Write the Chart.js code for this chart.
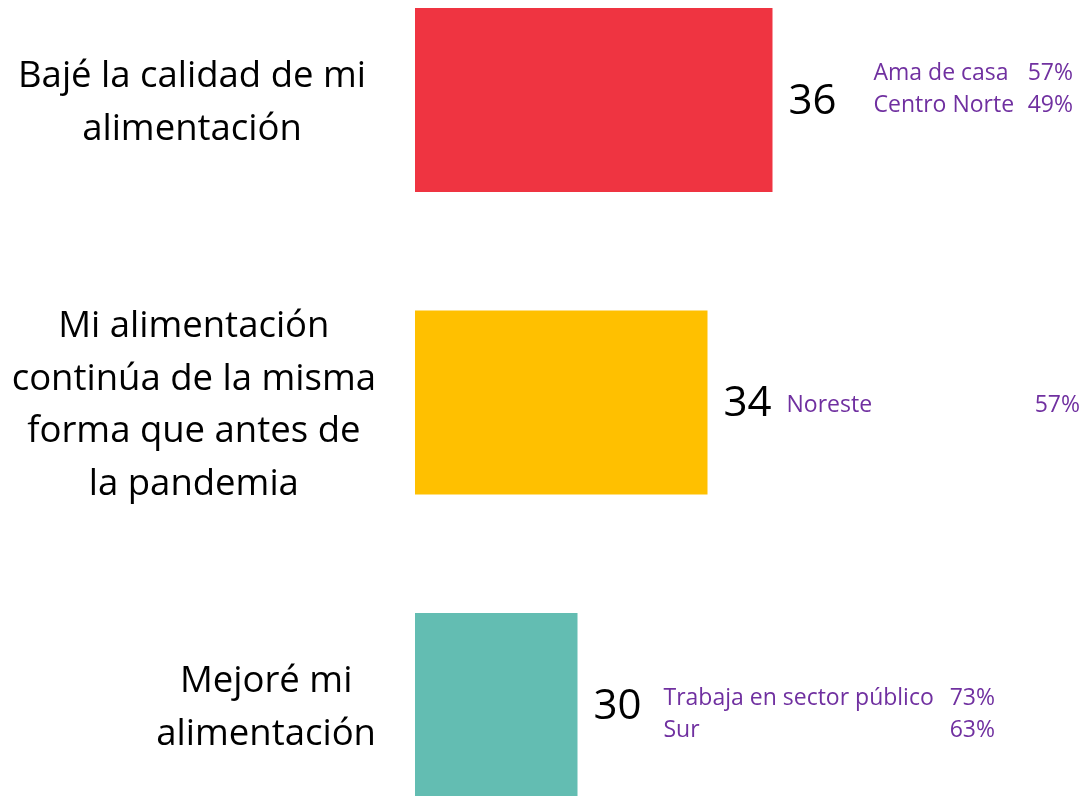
<!DOCTYPE html>
<html><head><meta charset="utf-8">
<script src="https://cdn.jsdelivr.net/npm/chart.js@4.4.0/dist/chart.umd.min.js"></script>
<style>html,body{margin:0;padding:0;background:#fff;overflow:hidden}#wrap{position:relative;width:1082px;height:796px}canvas{display:block}</style>
</head><body><div id="wrap"><canvas id="c" width="1082" height="796"></canvas></div>
<script>
// ---- data ----
const categories = [
  ["Bajé la calidad de mi", "alimentación"],
  ["Mi alimentación", "continúa de la misma", "forma que antes de", "la pandemia"],
  ["Mejoré mi", "alimentación"]
];
const values = [36, 34, 30];
const noteLabels = [["Ama de casa", "Centro Norte"], ["Noreste"], ["Trabaja en sector público", "Sur"]];
const notePercents = [["57%", "49%"], ["57%"], ["73%", "63%"]];
const axisMin = 25, axisMax = 45;

// ---- styles / layout ----
const barColors = ['#EF3441', '#FFC000', '#63BDB2'];
const FONT = '"Open Sans", Lato, sans-serif';
const labelRight = [366, 376, 376];
const noteLayout = [
  { dx: 101, right: 1073, dy: [-28, 4] },
  { dx: 79, right: 1080, dy: [2] },
  { dx: 86, right: 995, dy: [-8, 24] }
];

const textPlugin = {
  id: 'texts',
  afterDatasetsDraw(chart) {
    const ctx = chart.ctx;
    const meta = chart.getDatasetMeta(0);
    const yScale = chart.scales.y;
    ctx.save();
    // category labels
    ctx.font = '36.5px ' + FONT;
    ctx.fillStyle = '#000';
    ctx.textAlign = 'center';
    ctx.textBaseline = 'middle';
    categories.forEach((lines, i) => {
      const yc = yScale.getPixelForTick(i);
      const widest = Math.max(...lines.map(l => ctx.measureText(l).width));
      const cx = labelRight[i] - widest / 2;
      lines.forEach((l, j) => {
        ctx.fillText(l, cx, yc + (j - (lines.length - 1) / 2) * 52.5 + 3);
      });
    });
    // values and notes
    meta.data.forEach((bar, i) => {
      const x = bar.x, y = bar.y;
      ctx.font = '42px ' + FONT;
      ctx.fillStyle = '#000';
      ctx.textAlign = 'left';
      ctx.textBaseline = 'middle';
      ctx.fillText(String(values[i]), x + 16, y + 2);
      const nl = noteLayout[i];
      ctx.font = '23px ' + FONT;
      ctx.fillStyle = '#7030A0';
      noteLabels[i].forEach((t, j) => {
        const ty = y + nl.dy[j] + 1;
        ctx.textAlign = 'left';
        ctx.fillText(t, x + nl.dx, ty);
        ctx.textAlign = 'right';
        ctx.fillText(notePercents[i][j], nl.right, ty);
      });
    });
    ctx.restore();
  }
};

new Chart(document.getElementById('c'), {
  type: 'bar',
  data: {
    labels: categories,
    datasets: [{
      data: values,
      backgroundColor: barColors,
      borderWidth: 0,
      clip: false,
      base: axisMin,
      categoryPercentage: 0.608,
      barPercentage: 1
    }]
  },
  options: {
    indexAxis: 'y',
    responsive: false,
    animation: false,
    devicePixelRatio: 1,
    layout: { padding: { left: 415, right: 17, top: 100, bottom: 91 } },
    plugins: { legend: { display: false }, tooltip: { enabled: false } },
    scales: {
      y: { display: false, offset: false },
      x: { display: false, min: axisMin, max: axisMax }
    }
  },
  plugins: [textPlugin]
});
</script>
</body></html>
